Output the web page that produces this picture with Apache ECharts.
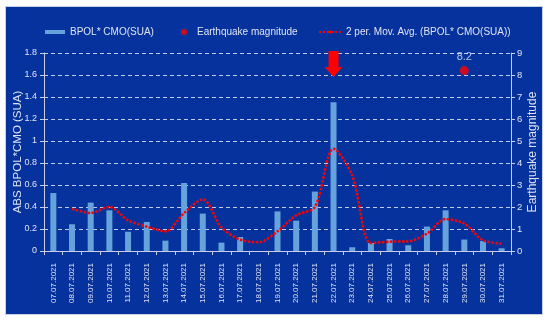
<!DOCTYPE html>
<html><head><meta charset="utf-8">
<script src="https://cdn.jsdelivr.net/npm/echarts@6/dist/echarts.min.js"></script>
<style>html,body{margin:0;padding:0;background:#fff}#c{width:550px;height:321px}</style>
</head><body><div id="c"></div>
<script>
const categories = ['07.07.2021','08.07.2021','09.07.2021','10.07.2021','11.07.2021','12.07.2021','13.07.2021','14.07.2021','15.07.2021','16.07.2021','17.07.2021','18.07.2021','19.07.2021','20.07.2021','21.07.2021','22.07.2021','23.07.2021','24.07.2021','25.07.2021','26.07.2021','27.07.2021','28.07.2021','29.07.2021','30.07.2021','31.07.2021'];
const bpolValues = [0.527,0.243,0.44,0.37,0.175,0.264,0.094,0.618,0.34,0.076,0.127,0.0,0.36,0.276,0.54,1.352,0.034,0.073,0.109,0.052,0.222,0.37,0.104,0.09,0.025];
const movAvgValues = [null,0.383,0.345,0.40,0.279,0.222,0.179,0.345,0.47,0.215,0.103,0.08,0.179,0.325,0.40,0.93,0.688,0.072,0.085,0.088,0.158,0.29,0.25,0.097,0.067];
const quakeValues = [null,null,null,null,null,null,null,null,null,null,null,null,null,null,null,null,null,null,null,null,null,null,8.2,null,null];
const leftTicks = {min:0,max:1.8,interval:0.2};
const rightTicks = {min:0,max:9,interval:1};
const arrowAt = {category:'22.07.2021', value:1.7};

const txt = '#dfe3f0';
const font = 'Liberation Sans, Arial, sans-serif';
const chart = echarts.init(document.getElementById('c'));
chart.setOption({
  backgroundColor:'#ffffff',
  animation:false,
  textStyle:{fontFamily:font},
  graphic:[{type:'rect',z:-10,shape:{x:5.5,y:6.5,width:537,height:308},style:{fill:'#06329e',stroke:'#c8cfe4',lineWidth:1}}],
  grid:{left:44,right:39,top:53,bottom:70,containLabel:false,outerBoundsMode:'none'},
  legend:[
    {top:22,left:40,itemWidth:20,itemHeight:4,itemGap:0,icon:'rect',data:['BPOL* CMO(SUA)'],textStyle:{color:txt,fontSize:10,fontFamily:font}},
    {top:22,left:176,itemWidth:11,itemHeight:6,icon:'path://M0,3 A3,3 0 1 1 6,3 A3,3 0 1 1 0,3 Z M11,3',data:['Earthquake magnitude'],textStyle:{color:txt,fontSize:10,fontFamily:font}},
    {top:22,left:313,itemWidth:22,itemHeight:4,data:['2 per. Mov. Avg. (BPOL* CMO(SUA))'],textStyle:{color:txt,fontSize:10,fontFamily:font}}
  ],
  xAxis:{type:'category',data:categories,boundaryGap:true,
    axisLine:{lineStyle:{color:'#c8cfe4',width:1}},
    axisTick:{show:true,alignWithLabel:false,length:4,lineStyle:{color:'#c8cfe4'}},
    axisLabel:{rotate:90,color:txt,fontSize:8,margin:12,interval:0,fontFamily:font}},
  yAxis:[
    {type:'value',min:leftTicks.min,max:leftTicks.max,interval:leftTicks.interval,
     name:'ABS BPOL*CMO (SUA)',nameLocation:'middle',nameGap:20,nameMoveOverlap:false,
     nameTextStyle:{color:txt,fontSize:11.5,fontFamily:font},
     axisLine:{show:true,lineStyle:{color:'#c8cfe4'}},
     axisTick:{show:true,length:4,lineStyle:{color:'#c8cfe4'}},
     axisLabel:{color:txt,fontSize:9,margin:7,formatter:v=>String(+v.toFixed(1))},
     splitLine:{show:true,lineStyle:{color:'#c0cae8',type:[4,3],width:1}}},
    {type:'value',min:rightTicks.min,max:rightTicks.max,interval:rightTicks.interval,position:'right',
     name:'Earthquake magnitude',nameLocation:'middle',nameGap:16,nameMoveOverlap:false,
     nameTextStyle:{color:txt,fontSize:12,fontFamily:font},
     axisLine:{show:true,lineStyle:{color:'#c8cfe4'}},
     axisTick:{show:true,length:4,lineStyle:{color:'#c8cfe4'}},
     axisLabel:{color:txt,fontSize:9.5,margin:6},
     splitLine:{show:false}}
  ],
  series:[
    {name:'BPOL* CMO(SUA)',type:'bar',data:bpolValues,barWidth:6,itemStyle:{color:'#66a3dc'},z:2,
     markPoint:{symbol:'path://M4,0 L14,0 L14,16 L18,16 L9,26 L0,16 L4,16 Z',symbolSize:[18,26],
       label:{show:false},itemStyle:{color:'#ff0000'},
       data:[{coord:[arrowAt.category,arrowAt.value]}]}},
    {name:'2 per. Mov. Avg. (BPOL* CMO(SUA))',type:'line',data:movAvgValues,symbol:'none',smooth:0.3,
     lineStyle:{color:'#ff0000',width:2.5,type:[2.5,1.5]},itemStyle:{color:'#ff0000'},z:3},
    {name:'Earthquake magnitude',type:'scatter',yAxisIndex:1,data:quakeValues,symbolSize:9,
     itemStyle:{color:'#ff0000'},z:4,
     label:{show:true,position:'top',distance:4,color:txt,fontSize:11,fontFamily:font}}
  ]
});
</script></body></html>
